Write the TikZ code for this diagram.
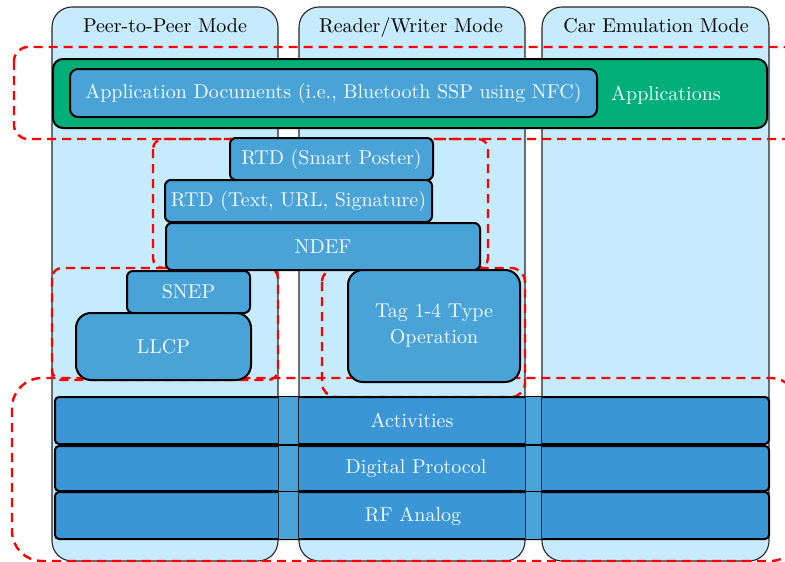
\documentclass[tikz,border=0pt]{standalone}
\usepackage{fontspec}
\setmainfont{lmroman10-regular}[Extension=.otf]
\usepackage{tikz}
\usetikzlibrary{calc}
\definecolor{colbg}{RGB}{197,235,252}
\definecolor{boxblue}{RGB}{74,163,214}
\definecolor{barblue}{RGB}{58,150,212}
\definecolor{barlight}{RGB}{74,163,214}
\definecolor{appgreen}{RGB}{0,174,120}
\definecolor{zonered}{RGB}{255,0,0}
\definecolor{labelwhite}{RGB}{245,250,255}
\newcommand\lblfont{\fontsize{20}{26}\selectfont}
\begin{document}
\begin{tikzpicture}[x=1pt,y=-1pt,
  column/.style={draw=black!85, line width=1.1pt, fill=colbg, rounded corners=20pt,
    minimum width=226pt, minimum height=554pt, inner sep=0pt},
  colline/.style={draw=black!85, line width=1.1pt},
  title/.style={font=\lblfont, text=black, inner sep=0pt, anchor=base},
  layer/.style={draw=black, line width=2pt, fill=boxblue, rounded corners=6pt,
    text=labelwhite, font=\lblfont, inner sep=0pt, align=center},
  bar/.style={layer, fill=barblue, rounded corners=4pt, minimum width=714pt},
  zone/.style={draw=zonered, line width=2.4pt, dash pattern=on 9pt off 6pt}]
\useasboundingbox (0,0) rectangle (785,562);
\clip (0,0) rectangle (785,562);

% the three operating modes
\node[column] (col1) at (165,284) {};
\node[column] (col2) at (412,284) {};
\node[column, minimum width=227pt] (col3) at (655.5,284) {};
\node[title] (t1) at (165,32) {Peer-to-Peer Mode};
\node[title] (t2) at (411,32) {Reader/Writer Mode};
\node[title] (t3) at (656,32) {Car Emulation Mode};

% dashed groupings
\draw[zone, rounded corners=14pt] (14,47) rectangle (800,139);
\draw[zone, rounded corners=10pt] (153,139) rectangle (488,268);
\draw[zone, rounded corners=10pt] (52,268) rectangle (278,380);
\draw[zone, rounded corners=14pt] (322,268) rectangle (525,397);
\draw[zone, rounded corners=30pt] (12,378) rectangle (800,561);

% application layer
\node[layer, fill=appgreen, rounded corners=10pt, minimum width=714pt, minimum height=69pt] (apps) at (410,93.5) {};
\node[layer, rounded corners=8pt, minimum width=527pt, minimum height=48pt] (docs) at (333.5,93)
  {Application Documents (i.e., Bluetooth SSP using NFC)};
\node[text=labelwhite, font=\lblfont, inner sep=0pt] (appslbl) at (666,95) {Applications};

% NDEF stack
\node[layer, minimum width=203pt, minimum height=42pt] (rtdsp) at (331.5,159) {RTD (Smart Poster)};
\node[layer, minimum width=267pt, minimum height=42pt] (rtdtxt) at (298.5,201) {RTD (Text, URL, Signature)};
\node[layer, minimum width=314pt, minimum height=47pt] (ndef) at (323,246.5) {NDEF};

% peer-to-peer stack
\node[layer, minimum width=123pt, minimum height=42pt] (snep) at (188.5,292) {SNEP};
\node[layer, rounded corners=15pt, minimum width=175pt, minimum height=67pt] (llcp) at (163.5,346.5) {LLCP};

% reader/writer stack
\node[layer, rounded corners=15pt, minimum width=172pt, minimum height=112pt] (tag) at (434,326)
  {Tag 1-4 Type\\Operation};

% common lower layers
\node[bar, minimum height=47pt] (act) at (412,420.5) {};
\node[bar, minimum height=45pt] (dig) at (412,468.5) {};
\node[bar, minimum height=47pt] (rf) at (412,515.5) {};
\foreach \b in {act,dig,rf}{
  \fill[barlight] ($(col1.east|-\b.north)+(0,1.1)$) rectangle ($(col2.west|-\b.south)+(0,-1.1)$);
  \fill[barlight] ($(col2.east|-\b.north)+(0,1.1)$) rectangle ($(col3.west|-\b.south)+(0,-1.1)$);
}
\draw[colline] (col1.east|-act.north) -- (col1.east|-rf.south);
\draw[colline] (col2.west|-act.north) -- (col2.west|-rf.south);
\draw[colline] (col2.east|-act.north) -- (col2.east|-rf.south);
\draw[colline] (col3.west|-act.north) -- (col3.west|-rf.south);
\node[text=labelwhite, font=\lblfont, inner sep=0pt] (actlbl) at (412,420) {Activities};
\node[text=labelwhite, font=\lblfont, inner sep=0pt] (diglbl) at (416,469) {Digital Protocol};
\node[text=labelwhite, font=\lblfont, inner sep=0pt] (rflbl) at (413,516) {RF Analog};
\end{tikzpicture}
\end{document}
